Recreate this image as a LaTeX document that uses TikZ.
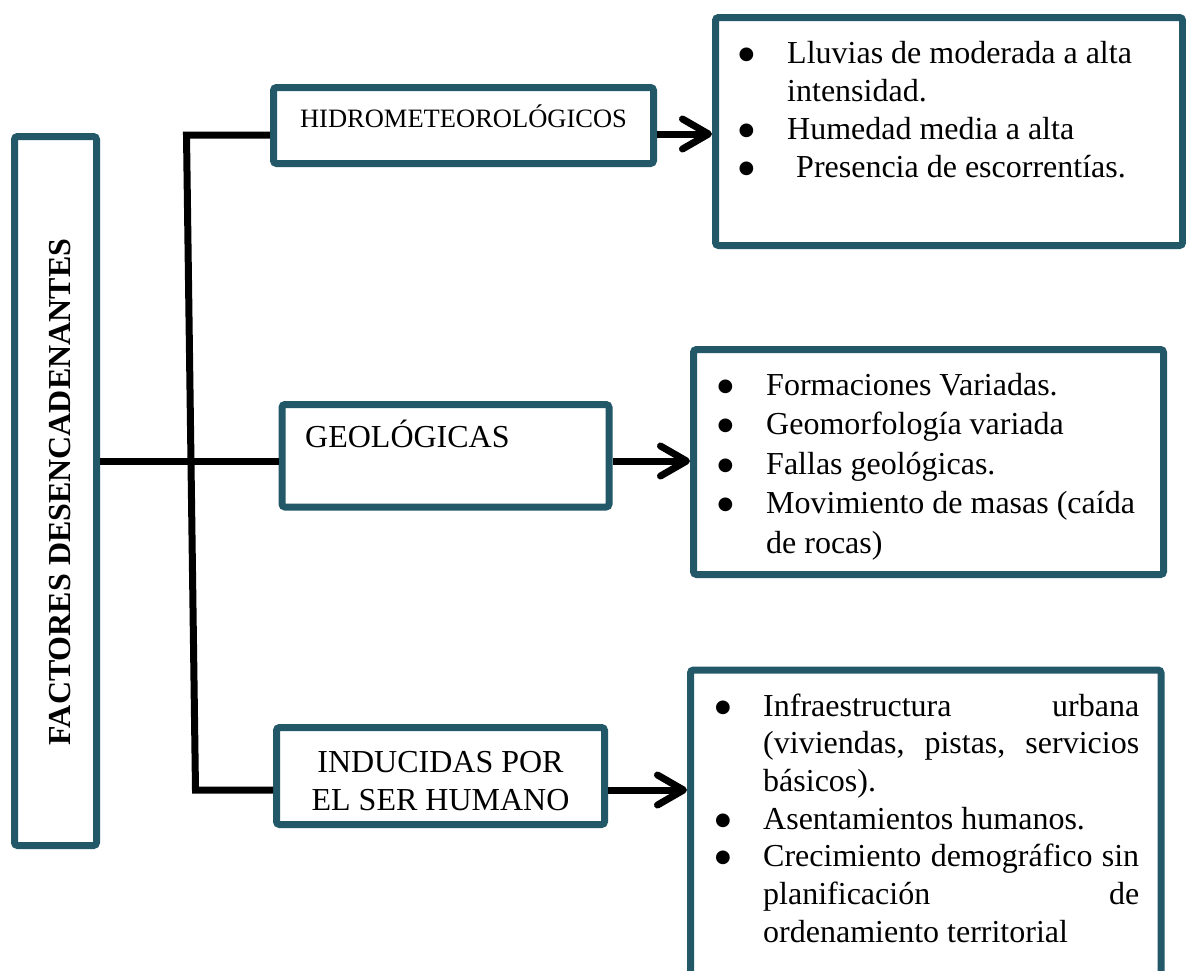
\documentclass[tikz,border=0pt]{standalone}
\usepackage{fontspec}
\setmainfont{Liberation Serif}
\newfontfamily\symfont{DejaVu Sans}
\usetikzlibrary{arrows.meta}

\definecolor{boxteal}{HTML}{235868}

% bullet list helpers
\newlength\bulind
\newcommand\bigbullet{\hspace{-1pt}\raisebox{4pt}{\symfont\fontsize{18}{18}\selectfont ●}}
\newcommand\bul[1]{\par\noindent\hangindent=\bulind\hangafter=1\makebox[\bulind][l]{\bigbullet}#1}

\begin{document}
\begin{tikzpicture}[x=1pt,y=-1pt,
  box/.style={draw=boxteal, line width=7pt, rounded corners=3pt, fill=white,
              rectangle, inner sep=0pt},
  conn/.style={draw=black, line width=7pt},
  arr/.style={conn, -{Straight Barb[length=26pt,width=30pt,line width=7pt,round]}},
  txt/.style={inner sep=0pt, font=\fontsize{32}{38}\selectfont},
  smalltxt/.style={inner sep=0pt, font=\fontsize{26.5}{30}\selectfont},
  list/.style={inner sep=0pt, anchor=base west}
]
\useasboundingbox (0,0) rectangle (1186,970);
\clip (0,0) rectangle (1186,970);

% main title box
\node[box, minimum width=82pt, minimum height=709pt] (fd) at (55.5,491) {};
\node[txt, rotate=90, anchor=base, font=\fontsize{32}{38}\selectfont\bfseries] (fdt) at (70,492)
  {FACTORES DESENCADENANTES};

% category boxes
\node[box, minimum width=380pt, minimum height=76pt] (hidro) at (463.5,125.5) {};
\node[smalltxt, anchor=base] (hidrot) at (463.5,127) {HIDROMETEOROLÓGICOS};

\node[box, minimum width=327pt, minimum height=102.5pt] (geo) at (445.5,455.75) {};
\node[txt, anchor=base west] (geot) at (305,447) {GEOLÓGICAS};

\node[box, minimum width=328pt, minimum height=97pt] (ind) at (440.5,776) {};
\node[txt, anchor=base] (indt) at (440.5,772)
  {\parbox[t]{320pt}{\centering\fontsize{32}{38.5}\selectfont INDUCIDAS POR\\EL SER HUMANO}};

% detail boxes
\node[box, minimum width=467pt, minimum height=228pt] (big1) at (949,131.5) {};
\node[box, minimum width=470pt, minimum height=225pt] (big2) at (928.5,462) {};
\node[box, minimum width=470.5pt, minimum height=330pt] (big3) at (925.75,835) {};

% detail lists
\setlength\bulind{47.5pt}
\node[list] (l1) at (739.5,63) {\parbox[t]{430pt}{\fontsize{32}{38}\selectfont\raggedright
  \bul{Lluvias de moderada a alta\newline intensidad.}
  \bul{Humedad media a alta}
  \bul{\hspace{9pt}Presencia de escorrentías.}}};

\node[list] (l2) at (718.5,395) {\parbox[t]{440pt}{\fontsize{32}{39.5}\selectfont\raggedright
  \setlength\bulind{47.5pt}%
  \bul{Formaciones Variadas.}
  \bul{Geomorfología variada}
  \bul{Fallas geológicas.}
  \bul{Movimiento de masas (caída\newline de rocas)}}};

\node[list] (l3) at (716,716) {\parbox[t]{423pt}{\fontsize{32}{37.7}\selectfont
  \setlength\bulind{47pt}\hyphenpenalty=10000\exhyphenpenalty=10000\tolerance=10000
  \bul{Infraestructura urbana\linebreak (viviendas, pistas, servicios\linebreak básicos).}
  \bul{Asentamientos humanos.}
  \bul{Crecimiento demográfico sin\linebreak planificación de\linebreak ordenamiento territorial}}};

% tree connectors
\coordinate (jt) at (186.5,135);
\coordinate (jm) at (0,461);
\coordinate (jb) at (195.5,790);
\draw[conn] (hidro.west |- jt) -- (jt) -- (jb) -- (ind.west |- jb);
\draw[conn] (fd.east |- jm) -- (geo.west |- jm);

% arrows to the detail boxes
\coordinate (a1) at (0,134);
\coordinate (a2) at (0,461);
\coordinate (a3) at (0,790);
\draw[arr] (hidro.east |- a1) -- (big1.west |- a1);
\draw[arr] (geo.east |- a2) -- (big2.west |- a2);
\draw[arr] (ind.east |- a3) -- (big3.west |- a3);
\end{tikzpicture}
\end{document}
